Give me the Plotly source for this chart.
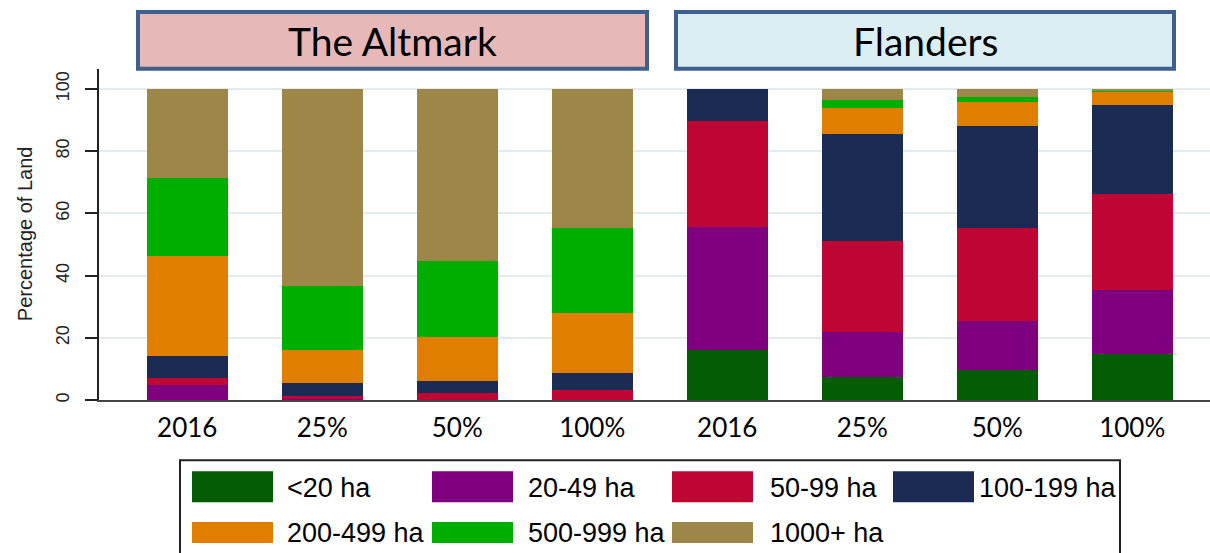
import plotly.graph_objects as go

W, H = 1210, 553

# ---------------- data ----------------
categories = ["Altmark 2016", "Altmark 25%", "Altmark 50%", "Altmark 100%",
              "Flanders 2016", "Flanders 25%", "Flanders 50%", "Flanders 100%"]
tick_labels = ["2016", "25%", "50%", "100%", "2016", "25%", "50%", "100%"]
regions = ["The Altmark", "Flanders"]

series_names = ["<20 ha", "20-49 ha", "50-99 ha", "100-199 ha",
                "200-499 ha", "500-999 ha", "1000+ ha"]
lt20 = [0, 0, 0, 0, 16.2, 7.5, 9.8, 14.9]
ha20_49 = [5.0, 0.3, 0.2, 0.2, 39.4, 14.4, 15.8, 20.5]
ha50_99 = [2.3, 1.1, 2.0, 3.2, 34.1, 29.4, 29.8, 30.9]
ha100_199 = [6.9, 4.2, 3.9, 5.4, 10.3, 34.3, 32.8, 28.4]
ha200_499 = [32.0, 10.4, 14.1, 19.3, 0, 8.3, 7.7, 4.6]
ha500_999 = [25.1, 20.6, 24.6, 27.1, 0, 2.5, 1.4, 0.3]
ha1000 = [28.7, 63.4, 55.2, 44.8, 0, 3.6, 2.7, 0.4]
series_values = [lt20, ha20_49, ha50_99, ha100_199, ha200_499, ha500_999, ha1000]
series_colors = ["#035c03", "#7e007e", "#bf0533", "#1c2b53",
                 "#e07e00", "#00ae00", "#9c8748"]

y_ticks = [0, 20, 40, 60, 80, 100]

# ---------------- helpers (pixel -> paper) ----------------
def px(x):
    return x / W

def py(y):
    return 1 - y / H

fig = go.Figure()
for name, vals, col in zip(series_names, series_values, series_colors):
    fig.add_trace(go.Bar(x=categories, y=vals, name=name,
                         marker=dict(color=col, line=dict(width=0)),
                         width=0.6, showlegend=False))

shapes = []
annotations = []

# region header boxes
box_specs = [(regions[0], 138, 647, "#e6b8b7"), (regions[1], 676, 1174, "#dbeef4")]
for label, x0, x1, fill in box_specs:
    shapes.append(dict(type="rect", xref="paper", yref="paper",
                       x0=px(x0), x1=px(x1), y0=py(69), y1=py(12),
                       fillcolor=fill, line=dict(color="#3f5f8c", width=4), layer="above"))
    annotations.append(dict(text=label, xref="paper", yref="paper",
                            x=px((x0 + x1) / 2), y=py(41), xanchor="center", yanchor="middle",
                            showarrow=False, font=dict(family="Lato, Carlito, sans-serif", size=39, color="black")))

# y axis title
annotations.append(dict(text="Percentage of Land", xref="paper", yref="paper",
                        x=px(25), y=py(235), textangle=-90, showarrow=False,
                        xanchor="center", yanchor="middle",
                        font=dict(family="Liberation Sans, Arial", size=20, color="#222")))

# custom legend
shapes.append(dict(type="rect", xref="paper", yref="paper",
                   x0=px(180), x1=px(1120), y0=py(570), y1=py(462),
                   fillcolor="white", line=dict(color="#222", width=2)))
col_x = [192, 432, 672, 893]
text_x = [285, 526, 768, 977]
rows = [(473, 504, 490), (524, 545, 535)]
for i, (name, col) in enumerate(zip(series_names, series_colors)):
    r, c = divmod(i, 4)
    y0, y1, yc = rows[r]
    shapes.append(dict(type="rect", xref="paper", yref="paper",
                       x0=px(col_x[c]), x1=px(col_x[c] + 81), y0=py(y1), y1=py(y0),
                       fillcolor=col, line=dict(width=0)))
    annotations.append(dict(text=name, xref="paper", yref="paper",
                            x=px(text_x[c]), y=py(yc), xanchor="left", yanchor="middle",
                            showarrow=False,
                            font=dict(family="Liberation Sans, Arial", size=27, color="black")))

plot_left, plot_right, plot_top, plot_bottom = 98.7, 1210, 69, 401.7

fig.update_layout(
    width=W, height=H,
    margin=dict(l=0, r=0, t=0, b=0),
    paper_bgcolor="white", plot_bgcolor="white",
    barmode="stack", bargap=0.4,
    shapes=shapes, annotations=annotations,
    xaxis=dict(domain=[px(plot_left), px(plot_right)],
               type="category", categoryorder="array", categoryarray=categories,
               tickvals=categories, ticktext=tick_labels,
               range=[-0.656, 7.576],
               showline=True, linecolor="#444", linewidth=1.5,
               ticks="", showgrid=False, zeroline=False,
               tickfont=dict(family="Lato, Carlito, sans-serif", size=26, color="black"),
               ticklabelstandoff=4),
    yaxis=dict(domain=[py(plot_bottom), py(plot_top)],
               range=[0, 106.5], tickvals=y_ticks,
               showline=True, linecolor="#222", linewidth=1.5,
               ticks="outside", ticklen=12, tickwidth=1.5, tickcolor="#222",
               tickangle=-90,
               tickfont=dict(family="Liberation Sans, Arial", size=18, color="#222"),
               ticklabelstandoff=9,
               showgrid=True, gridcolor="#e4ebef", gridwidth=1.5,
               zeroline=False),
)

fig.write_html("out.html", config={"displayModeBar": False},
               post_script="document.body.style.margin='0';document.body.style.padding='0';")
